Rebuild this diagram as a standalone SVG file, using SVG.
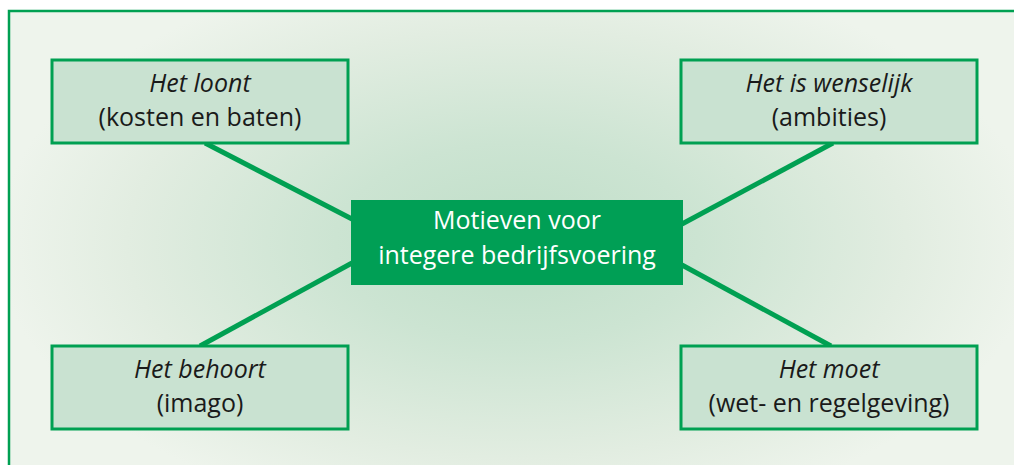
<svg xmlns="http://www.w3.org/2000/svg" width="1014" height="465" viewBox="0 0 1014 465">
  <defs>
    <radialGradient id="bg" cx="517" cy="243" r="520" gradientUnits="userSpaceOnUse" gradientTransform="translate(517 243) scale(1 0.55) translate(-517 -243)">
      <stop offset="0" stop-color="#bfdec8"/>
      <stop offset="0.35" stop-color="#cce4d2"/>
      <stop offset="0.75" stop-color="#e2ede1"/>
      <stop offset="1" stop-color="#eef4ec"/>
    </radialGradient>
    <style>
      .box { fill: #c9e2d1; stroke: #00a052; stroke-width: 3; }
      .center { fill: #009f55; }
      .t { font-family: "Open Sans", "Liberation Sans", sans-serif; font-size: 25px; fill: #1a1a1a; text-anchor: middle; }
      .i { font-style: italic; }
      .w { fill: #ffffff; }
      .conn { stroke: #00a052; stroke-width: 5; fill: none; }
    </style>
  </defs>
  <rect x="0" y="0" width="1014" height="465" fill="#ffffff"/>
  <rect x="9" y="11" width="1010" height="460" fill="url(#bg)" stroke="#00a052" stroke-width="2.5"/>
  <g id="connectors">
    <line class="conn" x1="205" y1="143" x2="352" y2="219"/>
    <line class="conn" x1="833" y1="143" x2="682" y2="224"/>
    <line class="conn" x1="200" y1="346" x2="352" y2="263"/>
    <line class="conn" x1="831" y1="346" x2="682" y2="265"/>
  </g>
  <g id="center">
    <rect class="center" x="351" y="200" width="332" height="85"/>
    <text class="t w" x="517" y="229">Motieven voor</text>
    <text class="t w" x="517" y="264">integere bedrijfsvoering</text>
  </g>
  <g id="loont">
    <rect class="box" x="52" y="60" width="296" height="83"/>
    <text class="t i" x="200" y="92">Het loont</text>
    <text class="t" x="200" y="126">(kosten en baten)</text>
  </g>
  <g id="wenselijk">
    <rect class="box" x="681" y="60" width="296" height="83"/>
    <text class="t i" x="829" y="92">Het is wenselijk</text>
    <text class="t" x="829" y="126">(ambities)</text>
  </g>
  <g id="behoort">
    <rect class="box" x="52" y="346" width="296" height="83"/>
    <text class="t i" x="200" y="378">Het behoort</text>
    <text class="t" x="200" y="412">(imago)</text>
  </g>
  <g id="moet">
    <rect class="box" x="681" y="346" width="296" height="83"/>
    <text class="t i" x="829" y="378">Het moet</text>
    <text class="t" x="829" y="412">(wet- en regelgeving)</text>
  </g>
</svg>
